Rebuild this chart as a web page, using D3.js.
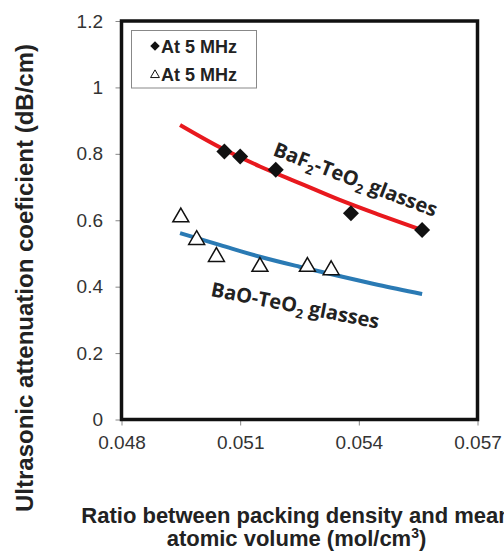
<!DOCTYPE html>
<html><head><meta charset="utf-8">
<script src="https://cdn.jsdelivr.net/npm/d3@7"></script>
<style>body{margin:0;background:#fff}</style>
</head><body><svg id="c" width="504" height="551"></svg>
<script>
const xTicks = [0.048, 0.051, 0.054, 0.057];
const yTicks = [0, 0.2, 0.4, 0.6, 0.8, 1, 1.2];
const baf2X = [0.0506, 0.0510, 0.0519, 0.0538, 0.0556];
const baf2Y = [0.807, 0.792, 0.752, 0.621, 0.571];
const baoX = [0.0495, 0.0499, 0.0504, 0.0515, 0.0527, 0.0533];
const baoY = [0.609, 0.541, 0.490, 0.460, 0.460, 0.450];
const fitX = [0.04948, 0.0505, 0.0515, 0.0525, 0.0535, 0.0545, 0.0556];
const baf2Fit = [0.887, 0.819, 0.762, 0.712, 0.662, 0.617, 0.570];
const baoFit = [0.561, 0.525, 0.490, 0.460, 0.432, 0.405, 0.378];
const legendLabels = ["At 5 MHz", "At 5 MHz"];

const svg = d3.select("#c");
const L = 121.5, R = 477.5, T = 21, B = 419.5;
const x = d3.scaleLinear().domain([0.048, 0.057]).range([L, R]);
const y = d3.scaleLinear().domain([0, 1.2]).range([B, T]);

const font = "Arial, 'Liberation Sans', sans-serif";

// axes ticks
const ya = svg.append("g").attr("transform", `translate(${L},0)`)
  .call(d3.axisLeft(y).tickValues(yTicks).tickSize(6).tickFormat(d => d3.format("")(d)));
ya.select(".domain").remove();
ya.selectAll("line").attr("stroke", "#888");
ya.selectAll("text").attr("font-family", font).attr("font-size", 19).attr("fill", "#333").attr("x", -18.5);

const xa = svg.append("g").attr("transform", `translate(0,${B})`)
  .call(d3.axisBottom(x).tickValues(xTicks).tickSize(6).tickFormat(d3.format(".3f")));
xa.select(".domain").remove();
xa.selectAll("line").attr("stroke", "#888");
xa.selectAll("text").attr("font-family", font).attr("font-size", 19).attr("fill", "#333").attr("y", 16);

// frame
svg.append("rect").attr("x", L).attr("y", T).attr("width", R - L).attr("height", B - T)
  .attr("fill", "none").attr("stroke", "#111").attr("stroke-width", 3.5);

// fit curves
const line = d3.line().curve(d3.curveMonotoneX);
svg.append("path").attr("d", line(fitX.map((v, i) => [x(v), y(baf2Fit[i])])))
  .attr("fill", "none").attr("stroke", "#e8191e").attr("stroke-width", 4);
svg.append("path").attr("d", line(fitX.map((v, i) => [x(v), y(baoFit[i])])))
  .attr("fill", "none").attr("stroke", "#2a7ab4").attr("stroke-width", 4);

// markers
const diamond = d3.symbol().type(d3.symbolSquare).size(128);
svg.selectAll(".dm").data(baf2X).join("path")
  .attr("d", diamond)
  .attr("transform", (d, i) => `translate(${x(d)},${y(baf2Y[i])}) rotate(45)`)
  .attr("fill", "#111");
const tri = d3.symbol().type(d3.symbolTriangle).size(110);
svg.selectAll(".tr").data(baoX).join("path")
  .attr("d", tri)
  .attr("transform", (d, i) => `translate(${x(d)},${y(baoY[i])})`)
  .attr("fill", "#fff").attr("stroke", "#111").attr("stroke-width", 1.5);

// legend
svg.append("rect").attr("x", 131.5).attr("y", 30.5).attr("width", 125).attr("height", 57.5)
  .attr("fill", "#fff").attr("stroke", "#888").attr("stroke-width", 1);
svg.append("path").attr("d", d3.symbol().type(d3.symbolSquare).size(45))
  .attr("transform", "translate(155,46) rotate(45)").attr("fill", "#111");
svg.append("path").attr("d", d3.symbol().type(d3.symbolTriangle).size(34))
  .attr("transform", "translate(155,75)").attr("fill", "#fff").attr("stroke", "#111").attr("stroke-width", 1);
legendLabels.forEach((t, i) => {
  svg.append("text").attr("x", 161).attr("y", 52.5 + i * 28).text(t)
    .attr("font-family", font).attr("font-weight", "bold").attr("font-size", 18).attr("fill", "#222");
});

// curve labels
const lf = "'Open Sans', 'Noto Sans', sans-serif";
const t1 = svg.append("text").attr("transform", "translate(272,155) rotate(21)")
  .attr("font-family", lf).attr("font-weight", "bold").attr("font-size", 20).attr("fill", "#222");
t1.append("tspan").text("BaF");
t1.append("tspan").text("2").attr("font-size", 13).attr("dy", 5);
t1.append("tspan").text("-TeO").attr("dy", -5);
t1.append("tspan").text("2").attr("font-size", 13).attr("dy", 5);
t1.append("tspan").text(" glasses").attr("dy", -5);

const t2 = svg.append("text").attr("transform", "translate(210,296) rotate(11)")
  .attr("font-family", lf).attr("font-weight", "bold").attr("font-size", 20).attr("fill", "#222");
t2.append("tspan").text("BaO-TeO");
t2.append("tspan").text("2").attr("font-size", 13).attr("dy", 5);
t2.append("tspan").text(" glasses").attr("dy", -5);

// axis titles
svg.append("text").attr("transform", "translate(33,278) rotate(-90)").attr("text-anchor", "middle")
  .attr("font-family", font).attr("font-weight", "bold").attr("font-size", 24).attr("fill", "#222")
  .text("Ultrasonic attenuation coeficient (dB/cm)");
svg.append("text").attr("x", 296.5).attr("y", 523).attr("text-anchor", "middle")
  .attr("font-family", font).attr("font-weight", "bold").attr("font-size", 22).attr("fill", "#222")
  .text("Ratio between packing density and mean");
const xl2 = svg.append("text").attr("x", 296.5).attr("y", 546).attr("text-anchor", "middle")
  .attr("font-family", font).attr("font-weight", "bold").attr("font-size", 22).attr("fill", "#222");
xl2.append("tspan").text("atomic volume (mol/cm");
xl2.append("tspan").text("3").attr("font-size", 14).attr("dy", -8);
xl2.append("tspan").text(")").attr("dy", 8);
</script></body></html>
